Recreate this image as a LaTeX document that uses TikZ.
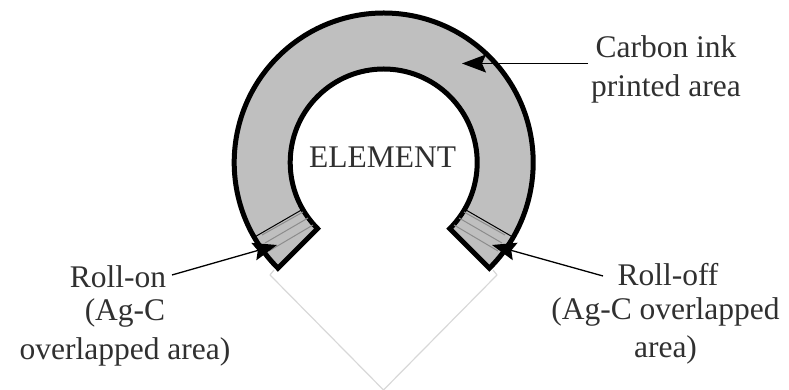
\documentclass[tikz,border=0pt]{standalone}
\usepackage{fontspec}
\setmainfont{Liberation Serif}
\usetikzlibrary{arrows.meta,calc}
\definecolor{inkgray}{HTML}{BFBFBF}
\definecolor{fanline}{HTML}{8C8C8C}
\definecolor{vline}{HTML}{D8D8D8}
\definecolor{txt}{HTML}{303030}
\tikzset{
  ring/.style={fill=inkgray,draw=black,line width=5pt,line join=miter},
  sep/.style={draw=black,line width=1pt},
  fan/.style={draw=fanline,line width=1pt},
  guide/.style={draw=vline,line width=1.2pt,line join=miter},
  pointer/.style={draw=black,line width=1.3pt,-{Stealth[length=24pt,width=18pt,inset=4pt]}},
  lab/.style={inner sep=0pt,align=center,text=txt,font=\fontsize{31.5}{36}\selectfont}
}
\begin{document}
\begin{tikzpicture}[x=1pt,y=1pt]
\useasboundingbox (0,0) rectangle (789,390);
\coordinate (c) at (383.7,227.5);
% guide lines
\coordinate (gl) at (270,115);
\coordinate (gb) at (383.5,0);
\coordinate (gr) at (497,115);
\draw[guide] (gl) -- (gb) -- (gr);
\draw[guide] (gl) -- (274,120);
\draw[guide] (gr) -- (493,120);
% ring
\path[ring] ($(c)+(225:149.5)$) arc[start angle=225,end angle=-45,radius=149.5]
  -- ($(c)+(-45:93.5)$) arc[start angle=-45,end angle=225,radius=93.5] -- cycle;
% overlap fan, left
\draw[fan] (262,155) -- (303,178);
\draw[fan] (265,147) -- (308,172);
\draw[fan] (269,139) -- (313,165);
\draw[sep] ($(c)+(210:149.5)$) -- ($(c)+(210:93.5)$);
% overlap fan, right
\draw[fan] (505,155) -- (464,178);
\draw[fan] (502,147) -- (459,172);
\draw[fan] (498,139) -- (454,165);
\draw[sep] ($(c)+(-30:149.5)$) -- ($(c)+(-30:93.5)$);
% labels
\node[lab] (element) at (382.5,233) {ELEMENT};
\node[lab] (carbon) at (666,320.5) {Carbon ink\\[3pt]printed area};
\node[lab] (rollon) at (125,74.5) {Roll-on\hspace*{14pt}\\[-3pt](Ag-C\\[3pt]overlapped area)};
\node[lab] (rolloff) at (665.5,76) {\hspace*{5pt}Roll-off\\[-2pt](Ag-C overlapped\\[2pt]area)};
% pointers
\coordinate (tc) at (462,326.5);
\coordinate (fc) at (588,326.5);
\coordinate (tl) at (277,145);
\coordinate (fl) at (172,115);
\coordinate (tr) at (492,145);
\coordinate (fr) at (603,114);
\draw[pointer] (fc) -- (tc);
\draw[pointer] (fl) -- (tl);
\draw[pointer] (fr) -- (tr);
\end{tikzpicture}
\end{document}
